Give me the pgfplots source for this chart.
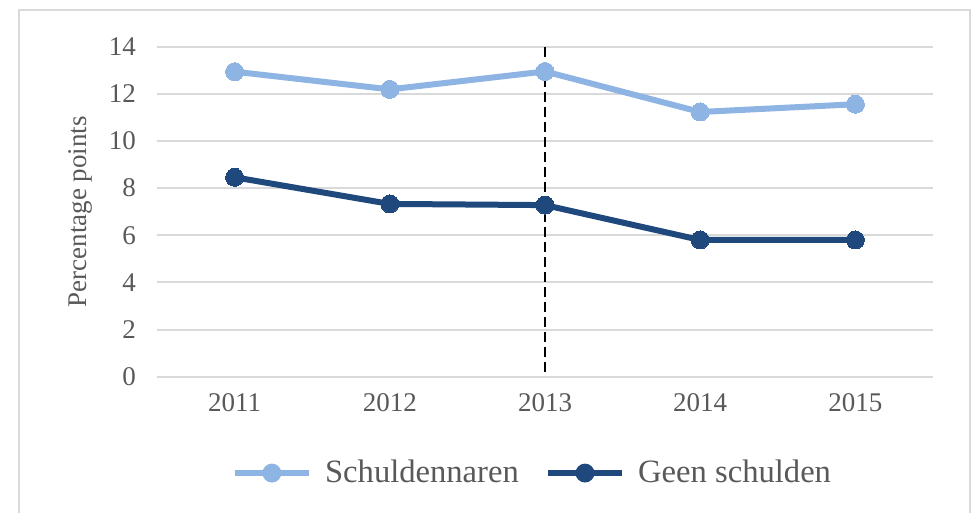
\documentclass[border=0pt]{standalone}
\usepackage{fontspec}
\setmainfont{Liberation Serif}
\usepackage{pgfplots}
\pgfplotsset{compat=1.18}
\definecolor{lightb}{HTML}{8EB4E3}
\definecolor{darkb}{HTML}{1F497D}
\definecolor{txt}{HTML}{595959}
\definecolor{grid}{HTML}{D9D9D9}
\begin{document}
\begin{tikzpicture}
\useasboundingbox (0,0) rectangle (486bp,-256.5bp);
\fill[white] (0,0) rectangle (486bp,-256.5bp);
\draw[color=grid, line width=1bp] (9.5bp,-5bp) rectangle (485bp,-262bp);
\begin{axis}[
  at={(78.5bp,-188.35bp)}, anchor=south west,
  scale only axis, width=388bp, height=165bp,
  xmin=-0.5, xmax=4.5, ymin=0, ymax=14,
  xtick={0,1,2,3,4}, xticklabels={2011,2012,2013,2014,2015},
  ytick={0,2,4,6,8,10,12,14},
  ymajorgrids, grid style={color=grid, line width=1bp},
  axis line style={draw=none}, major tick length=0pt,
  /pgf/number format/assume math mode=true,
  tick label style={font=\fontsize{13.5bp}{15bp}\selectfont, text=txt},
  xticklabel style={yshift=-5bp},
  yticklabel style={xshift=-7bp},
  ylabel={Percentage points},
  every axis y label/.style={at={(rel axis cs:0,0.5)}, xshift=-38.5bp, rotate=90, anchor=center,
    font=\fontsize{13.5bp}{15bp}\selectfont, text=txt},
  clip=false,
  legend columns=2,
  legend style={at={(0.485,-0.292)}, anchor=center, draw=none, fill=none,
    font=\fontsize{16.3bp}{18bp}\selectfont, text=txt,
    /tikz/every even column/.append style={column sep=11bp},
    /tikz/every odd column/.append style={column sep=4.5bp}},
  legend cell align=left,
]
\addplot[lightb, line width=3bp, mark=*, mark size=4.5bp, mark options={fill=lightb, draw=lightb, line width=0pt},
  legend image code/.code={\draw[lightb, line width=3.2bp] (0bp,0bp)--(37bp,0bp); \fill[lightb] (18.5bp,0bp) circle (3.2bp);}]
  coordinates {(0,12.94) (1,12.19) (2,12.95) (3,11.23) (4,11.56)};
\addlegendentry{Schuldennaren}
\addplot[darkb, line width=3bp, mark=*, mark size=4.5bp, mark options={fill=darkb, draw=darkb, line width=0pt},
  legend image code/.code={\draw[darkb, line width=3.2bp] (0bp,0bp)--(37bp,0bp); \fill[darkb] (18.5bp,0bp) circle (3.2bp);}]
  coordinates {(0,8.46) (1,7.33) (2,7.28) (3,5.80) (4,5.80)};
\addlegendentry{Geen schulden}
\addplot[black, line width=1.3bp, dash pattern=on 5bp off 2.5bp, forget plot] coordinates {(2,0.2) (2,14)};
\end{axis}
\end{tikzpicture}
\end{document}
